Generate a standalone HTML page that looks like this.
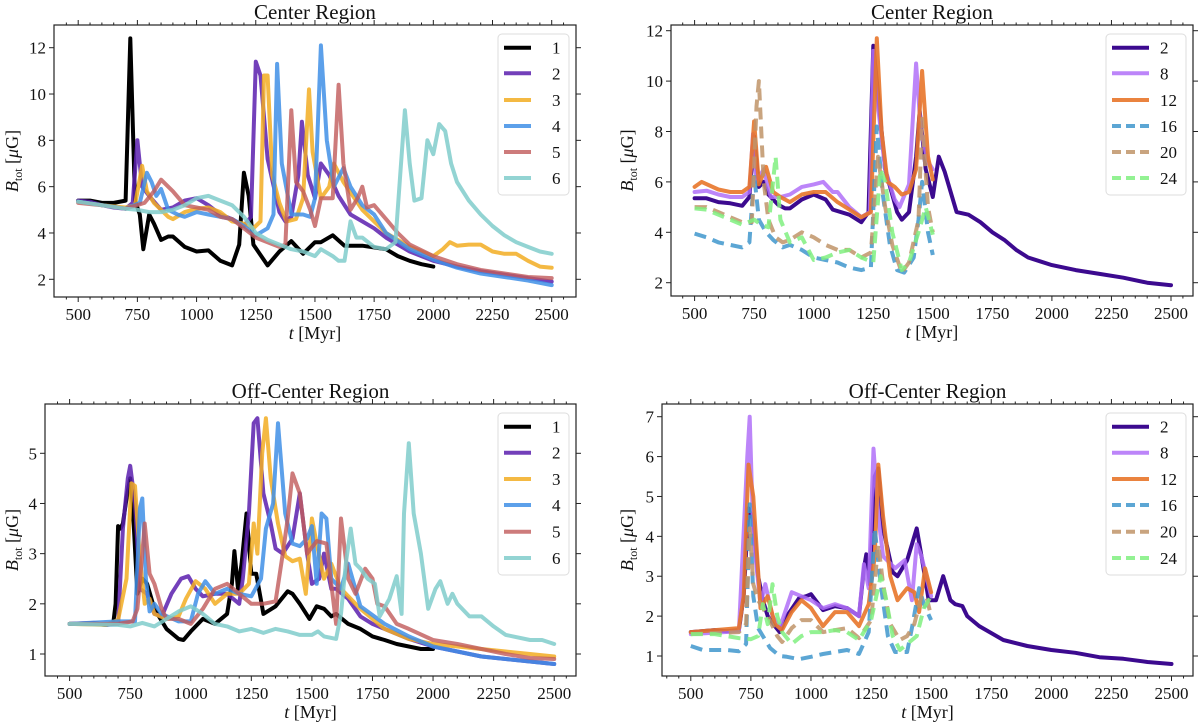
<!DOCTYPE html>
<html><head><meta charset="utf-8"><style>
body{margin:0;background:#fff;}
svg{display:block;font-family:"Liberation Serif",serif;}
</style></head><body>
<svg id="fig" width="1200" height="728" viewBox="0 0 1200 728" xmlns="http://www.w3.org/2000/svg"></svg>
<script>
// ---------- DATA: Center Region, runs 1-6 ----------
const c1=[[500,5.4],[550,5.4],[600,5.3],[650,5.3],[700,5.4],[720,12.4],[740,5.4],[760,4.8],[775,3.3],[800,4.8],[820,4.4],[850,3.7],[880,3.85],[900,3.85],[950,3.4],[1000,3.2],[1050,3.25],[1100,2.8],[1150,2.6],[1180,3.5],[1200,6.6],[1220,5.6],[1240,3.5],[1300,2.6],[1350,3.2],[1400,3.65],[1450,3.1],[1500,3.6],[1525,3.6],[1575,3.9],[1625,3.45],[1700,3.45],[1800,3.3],[1850,3.0],[1900,2.8],[1950,2.65],[2000,2.55]];
const c2=[[500,5.4],[550,5.35],[600,5.2],[650,5.1],[700,5.05],[730,5.3],[750,8.0],[770,6.0],[800,5.6],[850,5.0],[900,5.1],[950,5.4],[1000,5.5],[1050,5.2],[1100,4.8],[1150,4.6],[1200,4.3],[1230,4.7],[1250,11.4],[1270,10.8],[1300,7.2],[1350,4.9],[1375,4.5],[1400,4.7],[1430,6.5],[1445,8.8],[1470,6.5],[1500,5.5],[1525,7.0],[1560,6.5],[1600,5.6],[1650,4.8],[1700,4.5],[1750,4.2],[1800,3.8],[1900,3.2],[2000,2.8],[2100,2.55],[2200,2.35],[2300,2.2],[2400,2.05],[2500,1.9]];
const c3=[[500,5.35],[600,5.2],[700,5.1],[740,5.2],[770,6.9],[790,5.8],[820,5.3],[850,5.0],[880,4.7],[900,4.6],[950,4.9],[1000,5.05],[1050,5.1],[1100,4.9],[1150,4.5],[1200,4.4],[1240,4.2],[1270,4.5],[1285,10.8],[1300,10.8],[1320,6.5],[1350,5.3],[1380,4.5],[1420,4.6],[1450,5.5],[1475,10.2],[1490,7.5],[1525,5.5],[1560,6.0],[1580,7.0],[1620,6.2],[1700,5.0],[1750,4.5],[1800,4.0],[1900,3.4],[2000,3.0],[2040,3.3],[2070,3.6],[2100,3.45],[2150,3.5],[2200,3.5],[2250,3.2],[2300,3.1],[2350,3.1],[2400,2.8],[2450,2.55],[2500,2.5]];
const c4=[[500,5.35],[600,5.2],[700,5.05],[760,5.3],[790,6.6],[810,6.2],[830,5.6],[850,5.9],[880,5.0],[920,4.8],[950,4.7],[1000,4.9],[1050,4.8],[1100,4.7],[1150,4.6],[1200,4.3],[1250,3.9],[1300,4.2],[1325,4.8],[1340,11.3],[1360,7.0],[1400,4.8],[1450,4.8],[1480,4.7],[1500,5.5],[1525,12.1],[1550,8.0],[1580,6.0],[1620,6.8],[1650,6.0],[1700,5.2],[1750,4.8],[1800,4.0],[1900,3.3],[2000,2.85],[2100,2.5],[2200,2.25],[2300,2.1],[2400,1.95],[2500,1.75]];
const c5=[[500,5.3],[600,5.2],[700,5.05],[780,5.3],[820,5.8],[850,6.3],[880,6.0],[900,5.8],[950,5.2],[1000,5.1],[1050,5.0],[1100,4.7],[1150,4.6],[1200,4.2],[1250,3.8],[1300,3.6],[1350,3.4],[1375,3.5],[1400,9.3],[1420,6.2],[1450,5.8],[1480,5.0],[1500,4.3],[1525,5.5],[1575,5.5],[1600,10.4],[1620,7.0],[1650,5.0],[1680,5.5],[1700,6.0],[1720,5.1],[1750,5.2],[1800,4.6],[1850,4.0],[1900,3.5],[2000,3.0],[2100,2.65],[2200,2.4],[2300,2.25],[2400,2.1],[2500,2.05]];
const c6=[[500,5.35],[600,5.2],[700,5.05],[750,5.0],[800,4.9],[850,4.9],[900,5.0],[950,5.2],[1000,5.5],[1050,5.6],[1100,5.4],[1150,5.2],[1200,4.7],[1250,4.0],[1300,3.7],[1350,3.5],[1400,3.3],[1450,3.2],[1500,3.0],[1525,3.3],[1575,3.0],[1600,2.8],[1625,2.8],[1650,4.5],[1675,3.8],[1700,3.8],[1750,3.4],[1800,3.3],[1840,3.6],[1860,6.5],[1880,9.3],[1900,7.0],[1920,5.4],[1950,5.5],[1975,8.0],[2000,7.4],[2025,8.7],[2050,8.4],[2075,7.0],[2100,6.2],[2150,5.4],[2200,4.8],[2250,4.3],[2300,3.9],[2350,3.6],[2400,3.4],[2450,3.2],[2500,3.1]];
// ---------- DATA: Center Region, resolution runs ----------
const r2=[[500,5.35],[550,5.35],[600,5.2],[650,5.15],[700,5.05],[730,5.4],[750,7.8],[770,5.8],[790,6.0],[810,5.5],[850,5.1],[880,4.95],[900,4.95],[950,5.3],[1000,5.5],[1050,5.3],[1080,4.9],[1150,4.7],[1200,4.4],[1230,4.8],[1250,11.4],[1270,9.5],[1300,6.5],[1350,4.8],[1370,4.5],[1400,4.8],[1430,7.0],[1445,8.8],[1470,6.5],[1500,5.4],[1525,7.0],[1550,6.4],[1600,4.8],[1650,4.7],[1700,4.4],[1750,4.0],[1800,3.7],[1850,3.3],[1900,3.0],[1950,2.85],[2000,2.7],[2100,2.5],[2200,2.35],[2300,2.2],[2400,2.0],[2500,1.9]];
const r8=[[500,5.6],[550,5.65],[600,5.5],[650,5.4],[700,5.4],[730,5.6],[745,7.9],[760,6.0],[790,6.5],[820,5.4],[860,5.4],[900,5.5],[950,5.8],[1000,5.9],[1040,6.0],[1080,5.6],[1100,5.6],[1150,5.0],[1200,4.6],[1235,4.8],[1250,11.2],[1270,9.0],[1300,6.5],[1340,5.3],[1360,5.0],[1400,5.9],[1430,10.7],[1450,8.0],[1480,6.8],[1500,6.5]];
const r12=[[500,5.8],[530,6.0],[600,5.7],[650,5.6],[700,5.6],[730,5.8],[750,8.4],[770,5.9],[800,6.6],[830,5.6],[860,5.4],[900,5.2],[950,5.5],[1000,5.6],[1050,5.6],[1100,5.2],[1150,4.9],[1200,4.6],[1240,4.8],[1265,11.7],[1285,8.0],[1310,6.0],[1340,5.8],[1370,5.5],[1400,5.6],[1430,6.5],[1455,10.4],[1480,7.0],[1500,6.1]];
const r16=[[500,3.95],[550,3.8],[600,3.6],[650,3.5],[700,3.4],[730,3.6],[750,6.3],[770,4.5],[800,4.0],[830,3.7],[870,3.4],[900,3.5],[950,3.3],[1000,3.0],[1050,2.9],[1100,2.8],[1150,2.6],[1200,2.5],[1240,2.6],[1265,8.2],[1290,5.5],[1320,3.5],[1350,2.5],[1380,2.4],[1420,3.0],[1440,4.5],[1455,6.0],[1480,4.0],[1500,3.1]];
const r20=[[500,5.0],[550,5.0],[600,4.8],[650,4.6],[700,4.4],[740,4.4],[760,9.0],[770,10.0],[790,6.0],[810,4.5],[840,3.8],[870,3.6],[900,3.7],[950,4.0],[1000,3.8],[1050,3.5],[1100,3.3],[1150,3.3],[1200,3.0],[1240,3.2],[1270,7.0],[1300,5.0],[1330,3.5],[1370,2.4],[1400,2.8],[1440,4.5],[1455,8.5],[1480,5.0],[1500,4.0]];
const r24=[[500,4.95],[550,4.9],[600,4.7],[650,4.5],[700,4.3],[750,4.5],[780,4.3],[810,4.2],[840,7.0],[860,4.5],[900,3.6],[950,3.8],[1000,2.9],[1050,3.0],[1100,3.2],[1150,3.3],[1200,3.0],[1250,2.8],[1280,6.5],[1300,6.0],[1330,4.0],[1370,2.5],[1400,2.8],[1440,4.0],[1470,5.0],[1500,3.9]];
// ---------- DATA: Off-Center Region, runs 1-6 ----------
const o1=[[500,1.6],[600,1.6],[650,1.58],[680,1.6],[690,2.0],[700,3.55],[710,3.5],[720,3.6],[735,4.1],[750,4.5],[760,4.0],[780,2.2],[800,2.5],[820,2.4],[850,1.9],[900,1.5],[950,1.3],[970,1.28],[1000,1.45],[1050,1.7],[1100,1.6],[1150,1.8],[1170,2.4],[1180,3.05],[1195,2.3],[1210,2.8],[1230,3.8],[1250,2.6],[1270,2.6],[1300,1.8],[1350,1.95],[1400,2.25],[1420,2.2],[1450,2.0],[1490,1.7],[1520,1.95],[1550,1.9],[1580,1.75],[1600,1.8],[1650,1.6],[1700,1.5],[1750,1.35],[1800,1.28],[1850,1.2],[1900,1.15],[1950,1.1],[2000,1.1]];
const o2=[[500,1.6],[600,1.62],[650,1.58],[700,1.6],[720,3.5],[740,4.5],[750,4.75],[770,4.0],[790,2.3],[820,2.2],[850,1.8],[880,1.75],[920,2.2],[960,2.5],[990,2.55],[1020,2.3],[1050,2.15],[1100,2.2],[1150,2.2],[1200,2.0],[1215,2.5],[1240,3.8],[1260,5.6],[1275,5.7],[1300,4.2],[1330,3.6],[1350,3.1],[1380,3.0],[1420,3.3],[1450,4.2],[1480,3.0],[1500,2.4],[1530,2.5],[1550,3.0],[1580,2.3],[1600,2.3],[1650,2.1],[1700,1.75],[1750,1.6],[1800,1.5],[1900,1.3],[2000,1.15],[2100,1.05],[2200,0.95],[2300,0.9],[2400,0.85],[2500,0.8]];
const o3=[[500,1.6],[650,1.58],[700,1.68],[735,2.5],[755,4.4],[770,4.35],[790,2.9],[810,2.0],[830,2.1],[850,1.8],[900,1.7],[950,1.75],[980,2.1],[1020,2.45],[1060,2.3],[1100,2.0],[1150,2.2],[1200,2.2],[1240,2.4],[1260,3.6],[1275,3.0],[1295,5.0],[1310,5.7],[1330,4.5],[1360,3.6],[1390,2.95],[1420,2.85],[1450,2.9],[1475,2.2],[1500,3.7],[1520,3.2],[1550,2.5],[1580,2.8],[1620,2.3],[1700,1.9],[1800,1.5],[1900,1.3],[2000,1.2],[2100,1.15],[2200,1.1],[2300,1.05],[2400,1.0],[2500,0.95]];
const o4=[[500,1.6],[700,1.65],[770,1.65],[790,3.9],[800,4.1],[815,2.5],[830,1.85],[850,2.0],[880,1.8],[950,1.65],[1000,1.65],[1030,2.2],[1060,2.45],[1100,2.2],[1150,2.3],[1200,2.2],[1250,2.15],[1290,2.5],[1310,3.5],[1340,4.0],[1360,5.6],[1390,3.8],[1420,3.2],[1450,3.15],[1480,3.3],[1500,3.55],[1520,2.4],[1540,3.8],[1560,3.7],[1580,2.5],[1620,2.3],[1650,2.8],[1700,1.95],[1800,1.6],[1900,1.35],[2000,1.15],[2100,1.05],[2200,0.95],[2300,0.9],[2400,0.85],[2500,0.8]];
const o5=[[500,1.6],[700,1.6],[760,1.65],[780,1.9],[800,3.0],[810,3.6],[830,2.6],[850,2.4],[880,1.9],[900,1.7],[950,1.7],[1000,1.6],[1050,1.9],[1100,2.3],[1150,2.4],[1200,2.2],[1250,2.0],[1300,2.0],[1350,2.05],[1380,3.0],[1400,3.7],[1420,4.6],[1450,4.2],[1480,3.0],[1520,3.25],[1560,3.2],[1600,1.6],[1620,3.7],[1650,2.5],[1680,2.2],[1720,2.7],[1750,2.5],[1770,2.0],[1800,1.95],[1850,1.6],[1900,1.5],[2000,1.28],[2100,1.2],[2200,1.1],[2300,1.0],[2400,0.92],[2500,0.9]];
const o6=[[500,1.6],[700,1.58],[750,1.55],[800,1.62],[850,1.55],[900,1.7],[950,1.85],[1000,1.95],[1050,1.8],[1100,1.6],[1150,1.55],[1200,1.45],[1250,1.5],[1300,1.42],[1350,1.5],[1400,1.45],[1450,1.38],[1500,1.38],[1525,1.45],[1550,1.35],[1600,1.3],[1620,1.8],[1640,2.8],[1660,3.5],[1680,2.8],[1700,2.7],[1730,2.5],[1760,2.4],[1780,1.75],[1820,2.1],[1850,2.55],[1870,1.8],[1880,3.8],[1900,5.2],[1920,3.8],[1950,3.0],[1980,1.9],[2010,2.3],[2030,2.45],[2060,2.0],[2080,2.2],[2100,2.0],[2150,1.75],[2200,1.75],[2250,1.55],[2300,1.38],[2400,1.28],[2450,1.28],[2500,1.2]];
// ---------- DATA: Off-Center Region, resolution runs ----------
const p2=[[500,1.6],[600,1.65],[650,1.62],[700,1.65],[720,2.5],[740,4.7],[760,4.4],[780,3.0],[800,2.4],[820,2.0],[850,1.75],[870,1.6],[900,2.0],[950,2.45],[980,2.5],[1000,2.55],[1050,2.15],[1100,2.25],[1150,2.2],[1200,2.0],[1220,3.2],[1230,3.55],[1245,2.8],[1265,5.5],[1280,5.7],[1300,4.2],[1340,3.1],[1360,3.0],[1400,3.4],[1440,4.2],[1460,3.5],[1490,2.4],[1520,2.4],[1550,3.0],[1580,2.4],[1600,2.3],[1630,2.25],[1650,2.0],[1700,1.75],[1800,1.4],[1900,1.25],[2000,1.15],[2100,1.08],[2200,0.97],[2300,0.93],[2400,0.85],[2500,0.8]];
const p8=[[500,1.55],[700,1.62],[735,6.0],[745,7.0],[760,4.0],[790,2.3],[810,2.8],[840,2.0],[870,1.7],[920,2.6],[960,2.5],[1000,2.4],[1050,2.2],[1100,2.3],[1150,2.2],[1200,2.0],[1220,3.3],[1240,2.7],[1260,6.2],[1280,4.5],[1300,3.5],[1350,3.2],[1390,3.4],[1420,2.4],[1440,3.8],[1460,3.5],[1500,2.5]];
const p12=[[500,1.6],[600,1.65],[700,1.7],[720,2.5],[740,5.8],[760,5.0],[790,2.2],[820,2.5],[850,1.8],[880,1.65],[920,2.1],[960,2.4],[1000,2.2],[1050,1.75],[1100,2.1],[1150,2.1],[1200,1.75],[1240,2.3],[1265,3.5],[1280,5.8],[1300,4.5],[1330,3.0],[1360,2.4],[1400,2.7],[1430,2.6],[1450,2.1],[1475,3.2],[1500,2.6]];
const p16=[[500,1.25],[550,1.15],[600,1.15],[650,1.15],[700,1.12],[730,1.3],[745,4.8],[760,2.5],[780,1.7],[800,1.5],[830,1.2],[870,1.0],[900,0.98],[950,0.92],[1000,0.98],[1050,1.05],[1100,1.1],[1150,1.15],[1200,1.05],[1240,1.6],[1265,4.2],[1290,2.8],[1320,1.5],[1350,1.1],[1400,1.1],[1420,1.7],[1450,2.7],[1470,2.3],[1500,1.9]];
const p20=[[500,1.55],[700,1.6],[730,1.8],[745,4.2],[760,2.8],[780,2.4],[820,2.0],[860,1.5],[880,1.35],[920,1.7],[960,1.9],[1000,1.9],[1050,1.6],[1100,1.65],[1150,1.7],[1200,1.45],[1250,1.9],[1280,3.8],[1300,2.8],[1330,1.8],[1370,1.4],[1400,1.5],[1430,1.8],[1460,2.5],[1480,2.5],[1500,2.0]];
const p24=[[500,1.55],[600,1.55],[700,1.45],[750,1.42],[780,1.5],[800,2.3],[820,1.8],[840,2.8],[860,2.0],[880,1.6],[920,1.3],[960,1.5],[1000,1.6],[1050,1.6],[1100,1.65],[1150,1.6],[1200,1.4],[1250,1.9],[1290,3.0],[1310,2.5],[1340,1.5],[1370,1.15],[1400,1.3],[1440,1.5],[1470,2.2],[1500,2.5]];

const xTicks=[500,750,1000,1250,1500,1750,2000,2250,2500];
const yTicksCenter=[2,4,6,8,10,12];
const yTicksOffA=[1,2,3,4,5];
const yTicksOffB=[1,2,3,4,5,6,7];
const labelsA=["1","2","3","4","5","6"];
const labelsB=["2","8","12","16","20","24"];

const NS="http://www.w3.org/2000/svg";
const svg=document.getElementById('fig');
function mk(tag,attrs,parent){const e=document.createElementNS(NS,tag);for(const k in attrs)e.setAttribute(k,attrs[k]);(parent||svg).appendChild(e);return e;}

const stylesA=[{c:"#000000",o:1,d:""},{c:"#5b1fae",o:0.85,d:""},{c:"#f2ad22",o:0.85,d:""},{c:"#3f8fe6",o:0.85,d:""},{c:"#c05a5a",o:0.8,d:""},{c:"#80cccb",o:0.85,d:""}];
const stylesB=[{c:"#3c0a8f",o:1,d:""},{c:"#b070f8",o:0.85,d:""},{c:"#e8752a",o:0.9,d:""},{c:"#3f96cc",o:0.85,d:"12 7"},{c:"#c09468",o:0.85,d:"12 7"},{c:"#80f080",o:0.85,d:"12 7"}];

const panels=[
 {name:"center-runs",title:"Center Region",box:[54,25,576,297],xa:[500,78.2,2500,551.7],ya:[2,279.3,12,47.7],yt:yTicksCenter,series:[c1,c2,c3,c4,c5,c6],st:stylesA,lab:labelsA,lg:[498,34,569,195],lgy:[47.7,73.3,100,126,152,178],lgx:[504,531,552],ylx:18},
 {name:"center-resolution",title:"Center Region",box:[671,25,1193,296],xa:[500,694.6,2500,1171],ya:[2,282.7,12,30.7],yt:yTicksCenter,series:[r2,r8,r12,r16,r20,r24],st:stylesB,lab:labelsB,lg:[1106,34,1186,195],lgy:[47.7,73.3,100,126,152,178],lgx:[1112,1149,1160],ylx:633},
 {name:"offcenter-runs",title:"Off-Center Region",box:[45,404,576,676],xa:[500,69.6,2500,554.2],ya:[1,654,5,453.3],yt:yTicksOffA,series:[o1,o2,o3,o4,o5,o6],st:stylesA,lab:labelsA,lg:[498,413,569,575],lgy:[426.7,452.7,479,505,531.7,558],lgx:[504,531,552],ylx:18},
 {name:"offcenter-resolution",title:"Off-Center Region",box:[662,404,1193,676],xa:[500,690.8,2500,1171.5],ya:[1,656,7,416.7],yt:yTicksOffB,series:[p2,p8,p12,p16,p20,p24],st:stylesB,lab:labelsB,lg:[1106,413,1186,575],lgy:[426.7,452.7,479,505,531.7,558],lgx:[1112,1149,1160],ylx:633}
];

panels.forEach((P)=>{
 const g=mk('g',{});
 
 
 const [x0,y0,x1,y1]=P.box;
 const X=t=>P.xa[1]+(t-P.xa[0])*(P.xa[3]-P.xa[1])/(P.xa[2]-P.xa[0]);
 const Y=v=>P.ya[1]+(v-P.ya[0])*(P.ya[3]-P.ya[1])/(P.ya[2]-P.ya[0]);
 const cx=(x0+x1)/2;
 // clip
 const cid='clip-'+P.name;
 const cp=mk('clipPath',{id:cid},g);mk('rect',{x:x0,y:y0,width:x1-x0,height:y1-y0},cp);
 // series
 const sg=mk('g',{'clip-path':'url(#'+cid+')'},g);
 P.series.forEach((s,i)=>{
  const st=P.st[i];
  const d=s.map((p,j)=>(j?'L':'M')+X(p[0]).toFixed(1)+','+Y(p[1]).toFixed(1)).join(' ');
  const path=mk('path',{d:d,fill:'none',stroke:st.c,'stroke-width':4,'stroke-opacity':st.o,'stroke-linejoin':'round','stroke-linecap':st.d?'butt':'round'},sg);
  if(st.d)path.setAttribute('stroke-dasharray',st.d);
  
  
 });
 // frame
 const fr=mk('rect',{x:x0,y:y0,width:x1-x0,height:y1-y0,fill:'none',stroke:'#222','stroke-width':1.2},g);
 
 
 // x ticks
 for(let t=400;t<=2600;t+=50){const x=X(t);if(x<x0+1||x>x1-1)continue;const major=t%250===0&&t>=500;const L=major?5:2.5;
  mk('line',{x1:x,y1:y1,x2:x,y2:y1+L,stroke:'#222','stroke-width':1},g);
  mk('line',{x1:x,y1:y0,x2:x,y2:y0-L,stroke:'#222','stroke-width':1},g);}
 xTicks.forEach(t=>{const tx=mk('text',{x:X(t),y:y1+23,'text-anchor':'middle','font-size':17,fill:'#111'},g);tx.textContent=t;
  
  });
 // y ticks
 P.yt.forEach(v=>{const y=Y(v);
  mk('line',{x1:x0,y1:y,x2:x0-5,y2:y,stroke:'#222','stroke-width':1},g);
  mk('line',{x1:x1,y1:y,x2:x1+5,y2:y,stroke:'#222','stroke-width':1},g);
  const tx=mk('text',{x:x0-8,y:y+6,'text-anchor':'end','font-size':17,fill:'#111'},g);tx.textContent=v;
  
  });
 // title
 const ti=mk('text',{x:cx,y:y0-6,'text-anchor':'middle','font-size':21,fill:'#111'},g);ti.textContent=P.title;
 
 
 // x label
 const xl=mk('text',{x:cx,y:y1+42,'text-anchor':'middle','font-size':18,fill:'#111'},g);
 xl.innerHTML='<tspan font-style="italic">t</tspan> [Myr]';
 
 
 // y label
 const ym=(y0+y1)/2;
 const yl=mk('text',{x:P.ylx,y:ym,'text-anchor':'middle','font-size':18,fill:'#111',transform:'rotate(-90 '+P.ylx+' '+ym+')'},g);
 yl.innerHTML='<tspan font-style="italic">B</tspan><tspan font-size="12" dy="4">tot</tspan><tspan dy="-4"> [</tspan><tspan font-style="italic">μ</tspan>G]';
 
 
 // legend
 const lg=mk('g',{},g);
 
 
 mk('rect',{x:P.lg[0],y:P.lg[1],width:P.lg[2]-P.lg[0],height:P.lg[3]-P.lg[1],rx:4,fill:'#fff','fill-opacity':0.85,stroke:'#ddd','stroke-width':1},lg);
 P.lab.forEach((l,i)=>{const st=P.st[i];const y=P.lgy[i];
  const e=mk('g',{},lg);
  
  
  const ln=mk('line',{x1:P.lgx[0],y1:y,x2:P.lgx[1],y2:y,stroke:st.c,'stroke-width':4,'stroke-opacity':st.o},e);
  if(st.d)ln.setAttribute('stroke-dasharray','9 5');
  const tx=mk('text',{x:P.lgx[2],y:y+6,'font-size':17,fill:'#111'},e);tx.textContent=l;});
});
</script>
</body></html>
